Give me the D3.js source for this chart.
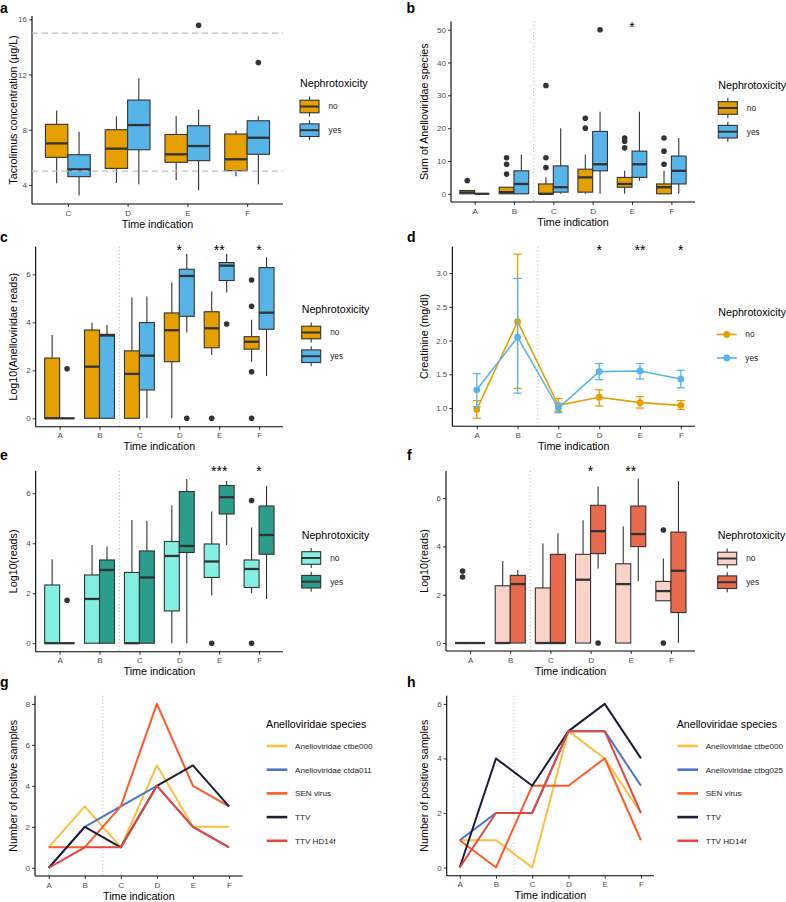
<!DOCTYPE html>
<html>
<head>
<meta charset="utf-8">
<script src="https://cdn.jsdelivr.net/npm/d3@7"></script>
<style>
  body { margin: 0; background: #fff; }
  svg { display: block; font-family: "Liberation Sans", Arial, sans-serif; }
</style>
</head>
<body>
<svg id="fig" width="786" height="902"></svg>
<script>
// categories
const times = ['A', 'B', 'C', 'D', 'E', 'F'];
const timesCF = ['C', 'D', 'E', 'F'];
const groups = ['no', 'yes'];
const speciesG = ['Anelloviridae ctbe000', 'Anelloviridae ctda011', 'SEN virus', 'TTV', 'TTV HD14f'];
const speciesH = ['Anelloviridae ctbe000', 'Anelloviridae ctbg025', 'SEN virus', 'TTV', 'TTV HD14f'];

// box stats per time point: [lower whisker, q1, median, q3, upper whisker]
// a: tacrolimus (C..F)
const aNo = [[4.12, 6.0, 7.01, 8.39, 9.4], [4.14, 5.2, 6.63, 8.0, 8.97], [4.34, 5.64, 6.22, 7.66, 8.97], [4.63, 5.03, 5.86, 7.69, 7.95]];
const aYes = [[3.23, 4.6, 5.13, 6.19, 7.85], [4.05, 6.55, 8.34, 10.15, 11.72], [3.62, 5.76, 6.82, 8.29, 9.47], [4.05, 6.22, 7.42, 8.65, 8.97]];
const aNoOut = [[], [], [], []];
const aYesOut = [[], [], [15.57], [12.87]];

// b: sum of Anelloviridae species
const bNo = [[0, 0, 0.4, 1, 1], [0, 0, 0.5, 2, 2], [0, 0, 0, 3, 5], [0, 0.5, 5, 7.5, 12], [0, 2, 3, 5, 7], [0, 0, 2, 3, 7]];
const bYes = [[0, 0, 0, 0, 0], [0, 0, 3, 7, 12], [0, 0.5, 2, 8.5, 20], [0, 7, 9, 19, 25], [4, 5, 9, 13, 25], [0, 3, 7, 11.5, 17]];
const bNoOut = [[4], [6, 9, 11], [8, 11, 33], [20, 23], [14, 16, 17], [9, 13, 17]];
const bYesOut = [[], [], [], [50], [], []];

// c: log10 Anelloviridae reads
const cNo = [[0, 0, 0, 2.51, 3.47], [0, 0, 2.15, 3.68, 3.99], [0, 0, 1.85, 2.81, 5.03], [0, 2.36, 3.67, 4.39, 5.67], [2.64, 2.94, 3.75, 4.44, 5.28], [2.36, 2.88, 3.19, 3.4, 4.11]];
const cYes = [[0, 0, 0, 0, 0], [0, 0, 3.45, 3.5, 3.89], [0, 1.18, 2.61, 3.99, 5.07], [3.58, 4.25, 5.93, 6.21, 6.85], [5.24, 5.74, 6.36, 6.49, 6.85], [1.76, 3.71, 4.4, 6.28, 6.71]];
const cNoOut = [[], [], [], [], [0], [0, 1.94, 4.67, 5.76]];
const cYesOut = [[2.06], [], [], [0], [3.93], []];

// d: creatinine mean with error bars
const dNoMean = [0.98, 2.28, 1.04, 1.16, 1.08, 1.04];
const dNoLow = [0.85, 1.29, 0.95, 1.03, 1.0, 0.98];
const dNoHigh = [1.11, 3.28, 1.14, 1.27, 1.17, 1.11];
const dYesMean = [1.27, 2.05, 1.0, 1.54, 1.55, 1.43];
const dYesLow = [1.02, 1.22, 0.93, 1.42, 1.43, 1.30];
const dYesHigh = [1.51, 2.92, 1.07, 1.66, 1.66, 1.56];

// e: log10 reads
const eNo = [[0, 0, 0, 2.33, 3.36], [0, 0, 1.77, 2.73, 3.93], [0, 0, 0, 2.83, 4.93], [0, 1.29, 3.49, 4.07, 5.51], [1.91, 2.63, 3.27, 3.97, 5.27], [2.0, 2.23, 2.97, 3.33, 4.63]];
const eYes = [[0, 0, 0, 0, 0], [0, 0, 2.93, 3.33, 3.87], [0, 0, 2.63, 3.69, 4.89], [0, 3.63, 3.89, 6.07, 6.57], [3.93, 5.17, 5.84, 6.31, 6.49], [1.77, 3.56, 4.33, 5.49, 6.29]];
const eNoOut = [[], [], [], [], [0], [0, 5.71]];
const eYesOut = [[1.72], [], [], [], [], []];

// f: log10 reads
const fNo = [[0, 0, 0, 0, 0], [0, 0, 0, 2.37, 3.39], [0, 0, 0, 2.28, 4.12], [0, 0, 2.62, 3.67, 5.08], [0, 0, 2.44, 3.28, 4.83], [1.75, 1.75, 2.15, 2.55, 3.5]];
const fYes = [[0, 0, 0, 0, 0], [0, 0, 2.44, 2.8, 3.02], [0, 0, 0, 3.67, 4.54], [3.08, 3.7, 4.63, 5.7, 6.48], [2.57, 3.99, 4.51, 5.67, 6.8], [0, 1.26, 2.99, 4.59, 6.7]];
const fNoOut = [[2.73, 2.98], [], [], [], [], [0, 4.68]];
const fYesOut = [[], [], [], [0], [], []];

// g, h: number of positive samples per species
const gCounts = [[1, 3, 1, 5, 2, 2], [0, 2, 3, 4, 2, 1], [1, 1, 3, 8, 4, 3], [0, 2, 1, 4, 5, 3], [0, 1, 1, 4, 2, 1]];
const hCounts = [[1, 1, 0, 5, 4, 2], [1, 2, 2, 5, 5, 3], [1, 0, 3, 3, 4, 1], [0, 4, 3, 5, 6, 4], [0, 2, 2, 5, 5, 2]];

// significance labels
const bStars = [['E', '*']];
const cStars = [['D', '*'], ['E', '**'], ['F', '*']];
const dStars = [['D', '*'], ['E', '**'], ['F', '*']];
const eStars = [['E', '***'], ['F', '*']];
const fStars = [['D', '*'], ['E', '**']];

const orangeBlue = ['#E69F00', '#56B4E9'];
const tealPair = ['#82EFE2', '#2A9D8C'];
const salmonPair = ['#FAD3C8', '#E76A4C'];
const speciesColors = ['#FDC03C', '#4C72D6', '#FF5A26', '#1C1E36', '#E5473F'];

const svg = d3.select('#fig');
const ink = '#333333';

function styleAxis(sel) {
  sel.select('.domain').remove();
  sel.selectAll('.tick line').attr('stroke', ink).attr('stroke-width', 1);
  sel.selectAll('.tick text').attr('fill', '#4D4D4D').attr('font-size', 8);
}

// axes, titles, dotted divider
function frame(p) {
  const g = svg.append('g');
  const x = d3.scalePoint().domain(p.cats).range([p.left, p.right]).padding(p.pad);
  const y = d3.scaleLinear().domain(p.yDomain).range([p.bottom, p.top]);
  const axisRight = p.axisRight || p.right;

  if (p.divider) {
    const xd = (x('B') + x('C')) / 2;
    g.append('line')
      .attr('x1', xd).attr('x2', xd).attr('y1', p.top).attr('y2', p.bottom)
      .attr('stroke', '#BDBDBD').attr('stroke-width', 1.2).attr('stroke-dasharray', '1,2.5');
  }

  g.append('g').attr('transform', `translate(0,${p.bottom})`)
    .call(d3.axisBottom(x).tickSize(3).tickPadding(3))
    .call(styleAxis);
  g.append('g').attr('transform', `translate(${p.left},0)`)
    .call(d3.axisLeft(y).tickValues(p.yTicks).tickSize(3).tickPadding(2).tickFormat(p.fmt || d3.format('d')))
    .call(styleAxis);

  g.append('line').attr('x1', p.left).attr('x2', axisRight).attr('y1', p.bottom).attr('y2', p.bottom)
    .attr('stroke', '#000').attr('stroke-width', 1.1);
  g.append('line').attr('x1', p.left).attr('x2', p.left).attr('y1', p.top).attr('y2', p.bottom)
    .attr('stroke', '#000').attr('stroke-width', 1.1);

  g.append('text')
    .attr('x', (p.left + axisRight) / 2).attr('y', p.bottom + 23.5)
    .attr('text-anchor', 'middle').attr('font-size', 10.7)
    .text('Time indication');
  g.append('text')
    .attr('transform', `translate(${p.titleX},${(p.top + p.bottom) / 2}) rotate(-90)`)
    .attr('text-anchor', 'middle').attr('dy', '0.35em').attr('font-size', 10.7)
    .text(p.ytitle);

  svg.append('text')
    .attr('x', p.letterX).attr('y', p.letterY)
    .attr('font-size', 14).attr('font-weight', 'bold')
    .text(p.letter);

  (p.stars || []).forEach(([c, s]) => {
    g.append('text')
      .attr('x', x(c)).attr('y', y(p.starY))
      .attr('text-anchor', 'middle').attr('font-size', 14)
      .text(s);
  });

  return { g, x, y };
}

function boxPanel(p) {
  const { g, x, y } = frame(p);
  const step = x.step();
  const dodge = d3.scaleBand().domain(groups).range([-0.375 * step, 0.375 * step]);
  const bw = dodge.bandwidth();

  p.series.forEach((s, gi) => {
    p.cats.forEach((c, i) => {
      const [lo, q1, med, q3, hi] = s.stats[i];
      const x0 = x(c) + dodge(groups[gi]);
      const cx = x0 + bw / 2;
      g.append('line').attr('x1', cx).attr('x2', cx).attr('y1', y(hi)).attr('y2', y(q3))
        .attr('stroke', ink).attr('stroke-width', 1.1);
      g.append('line').attr('x1', cx).attr('x2', cx).attr('y1', y(q1)).attr('y2', y(lo))
        .attr('stroke', ink).attr('stroke-width', 1.1);
      g.append('rect')
        .attr('x', x0).attr('y', y(q3)).attr('width', bw).attr('height', y(q1) - y(q3))
        .attr('fill', s.color).attr('stroke', ink).attr('stroke-width', 1.1);
      g.append('line').attr('x1', x0).attr('x2', x0 + bw).attr('y1', y(med)).attr('y2', y(med))
        .attr('stroke', ink).attr('stroke-width', 2.3);
      g.selectAll(null).data(s.out[i]).join('circle')
        .attr('cx', cx).attr('cy', d => y(d)).attr('r', 2.8).attr('fill', ink);
    });
  });

  if (p.dashes) {
    p.dashes.forEach(v => {
      g.append('line').attr('x1', p.left).attr('x2', p.right).attr('y1', y(v)).attr('y2', y(v))
        .attr('stroke', '#BDBDBD').attr('stroke-width', 1.1).attr('stroke-dasharray', '6,4');
    });
  }

  // legend
  const [lx, ly] = p.legend;
  svg.append('text').attr('x', lx).attr('y', ly).attr('font-size', 10.7).text('Nephrotoxicity');
  groups.forEach((grp, i) => {
    const cy = ly + 19.5 + i * 23.7;
    svg.append('line').attr('x1', lx + 9.5).attr('x2', lx + 9.5).attr('y1', cy - 10).attr('y2', cy + 10)
      .attr('stroke', ink).attr('stroke-width', 1.1);
    svg.append('rect').attr('x', lx).attr('y', cy - 6.3).attr('width', 19).attr('height', 12.6)
      .attr('fill', p.series[i].color).attr('stroke', ink).attr('stroke-width', 1.1);
    svg.append('line').attr('x1', lx).attr('x2', lx + 19).attr('y1', cy).attr('y2', cy)
      .attr('stroke', ink).attr('stroke-width', 2);
    svg.append('text').attr('x', lx + 28.5).attr('y', cy).attr('dy', '0.35em')
      .attr('font-size', 8.3).attr('fill', '#1a1a1a').text(grp);
  });
}

function meanPanel(p) {
  const { g, x, y } = frame(p);
  p.series.forEach(s => {
    g.append('path')
      .datum(s.mean)
      .attr('fill', 'none').attr('stroke', s.color).attr('stroke-width', 1.6)
      .attr('d', d3.line().x((d, i) => x(times[i])).y(d => y(d)));
    s.mean.forEach((m, i) => {
      const cx = x(times[i]);
      g.append('line').attr('x1', cx).attr('x2', cx).attr('y1', y(s.low[i])).attr('y2', y(s.high[i]))
        .attr('stroke', s.color).attr('stroke-width', 1.3);
      [s.low[i], s.high[i]].forEach(v => {
        g.append('line').attr('x1', cx - 4).attr('x2', cx + 4).attr('y1', y(v)).attr('y2', y(v))
          .attr('stroke', s.color).attr('stroke-width', 1.3);
      });
      g.append('circle').attr('cx', cx).attr('cy', y(m)).attr('r', 3.4).attr('fill', s.color);
    });
  });

  const [lx, ly] = p.legend;
  svg.append('text').attr('x', lx).attr('y', ly).attr('font-size', 10.7).text('Nephrotoxicity');
  groups.forEach((grp, i) => {
    const cy = ly + 19 + i * 23.4;
    svg.append('line').attr('x1', lx - 1.5).attr('x2', lx + 18.5).attr('y1', cy).attr('y2', cy)
      .attr('stroke', p.series[i].color).attr('stroke-width', 1.6);
    svg.append('circle').attr('cx', lx + 8.5).attr('cy', cy).attr('r', 3.4).attr('fill', p.series[i].color);
    svg.append('text').attr('x', lx + 27).attr('y', cy).attr('dy', '0.35em')
      .attr('font-size', 8.3).attr('fill', '#1a1a1a').text(grp);
  });
}

function linePanel(p) {
  const { g, x, y } = frame(p);
  const line = d3.line().x((d, i) => x(times[i])).y(d => y(d));
  p.counts.forEach((vals, k) => {
    g.append('path')
      .datum(vals)
      .attr('fill', 'none').attr('stroke', speciesColors[k]).attr('stroke-width', 2)
      .attr('stroke-linejoin', 'round')
      .attr('d', line);
  });

  const [lx, ly] = p.legend;
  svg.append('text').attr('x', lx).attr('y', ly).attr('font-size', 10.7).text('Anelloviridae species');
  p.species.forEach((name, k) => {
    const cy = ly + 18 + k * 23.7;
    svg.append('line').attr('x1', lx + 0.7).attr('x2', lx + 21.3).attr('y1', cy).attr('y2', cy)
      .attr('stroke', speciesColors[k]).attr('stroke-width', 2.6);
    svg.append('text').attr('x', lx + 29).attr('y', cy).attr('dy', '0.35em')
      .attr('font-size', 8.1).attr('fill', '#1a1a1a').text(name);
  });
}

boxPanel({
  letter: 'a', letterX: 0, letterY: 13,
  cats: timesCF, left: 32, right: 283, top: 16, bottom: 204, pad: 0.6,
  yDomain: [2.62, 16.24], yTicks: [4, 8, 12, 16], titleX: 13,
  ytitle: 'Tacrolimus concentration (µg/L)',
  dashes: [5, 15],
  series: [
    { color: orangeBlue[0], stats: aNo, out: aNoOut },
    { color: orangeBlue[1], stats: aYes, out: aYesOut }
  ],
  legend: [300, 87]
});

boxPanel({
  letter: 'b', letterX: 406.5, letterY: 13,
  cats: times, left: 451, right: 695, top: 21.5, bottom: 202, pad: 0.6, divider: true,
  yDomain: [-2.5, 52.5], yTicks: [0, 10, 20, 30, 40, 50], titleX: 424,
  ytitle: 'Sum of Anelloviridae species',
  stars: bStars, starY: 49.3,
  series: [
    { color: orangeBlue[0], stats: bNo, out: bNoOut },
    { color: orangeBlue[1], stats: bYes, out: bYesOut }
  ],
  legend: [718.3, 88.5]
});

boxPanel({
  letter: 'c', letterX: 0, letterY: 242,
  cats: times, left: 35.7, right: 283, top: 246.7, bottom: 426.7, pad: 0.6, divider: true,
  yDomain: [-0.35, 7.15], yTicks: [0, 2, 4, 6], titleX: 13.5,
  ytitle: 'Log10(Anelloviridae reads)',
  stars: cStars, starY: 6.8,
  series: [
    { color: orangeBlue[0], stats: cNo, out: cNoOut },
    { color: orangeBlue[1], stats: cYes, out: cYesOut }
  ],
  legend: [301.7, 313]
});

meanPanel({
  letter: 'd', letterX: 407, letterY: 242,
  cats: times, left: 452.3, right: 705.3, axisRight: 695, top: 246.7, bottom: 426.3, pad: 0.6, divider: true,
  yDomain: [0.73, 3.39], yTicks: [1, 1.5, 2, 2.5, 3], fmt: d3.format('.1f'), titleX: 424,
  ytitle: 'Creatinine (mg/dl)',
  stars: dStars, starY: 3.26,
  series: [
    { color: orangeBlue[0], mean: dNoMean, low: dNoLow, high: dNoHigh },
    { color: orangeBlue[1], mean: dYesMean, low: dYesLow, high: dYesHigh }
  ],
  legend: [718.3, 315.5]
});

boxPanel({
  letter: 'e', letterX: 0, letterY: 460,
  cats: times, left: 35.7, right: 283, top: 471, bottom: 651.7, pad: 0.6, divider: true,
  yDomain: [-0.34, 6.89], yTicks: [0, 2, 4, 6], titleX: 13.5,
  ytitle: 'Log10(reads)',
  stars: eStars, starY: 6.68,
  series: [
    { color: tealPair[0], stats: eNo, out: eNoOut },
    { color: tealPair[1], stats: eYes, out: eYesOut }
  ],
  legend: [301.7, 538.5]
});

boxPanel({
  letter: 'f', letterX: 407, letterY: 460,
  cats: times, left: 446, right: 695, top: 471, bottom: 651, pad: 0.6, divider: true,
  yDomain: [-0.33, 7.12], yTicks: [0, 2, 4, 6], titleX: 424,
  ytitle: 'Log10(reads)',
  stars: fStars, starY: 6.91,
  series: [
    { color: salmonPair[0], stats: fNo, out: fNoOut },
    { color: salmonPair[1], stats: fYes, out: fYesOut }
  ],
  legend: [717.7, 539]
});

linePanel({
  letter: 'g', letterX: 0, letterY: 687,
  cats: times, left: 35, right: 242.7, top: 695.7, bottom: 876, pad: 0.38, divider: true,
  yDomain: [-0.4, 8.4], yTicks: [0, 2, 4, 6, 8], titleX: 13.5,
  ytitle: 'Number of positive samples',
  counts: gCounts, species: speciesG,
  legend: [266, 728]
});

linePanel({
  letter: 'h', letterX: 407, letterY: 687,
  cats: times, left: 446.7, right: 654, top: 695.7, bottom: 875.7, pad: 0.36, divider: true,
  yDomain: [-0.3, 6.3], yTicks: [0, 2, 4, 6], titleX: 424,
  ytitle: 'Number of positive samples',
  counts: hCounts, species: speciesH,
  legend: [676.7, 728]
});
</script>
</body>
</html>
